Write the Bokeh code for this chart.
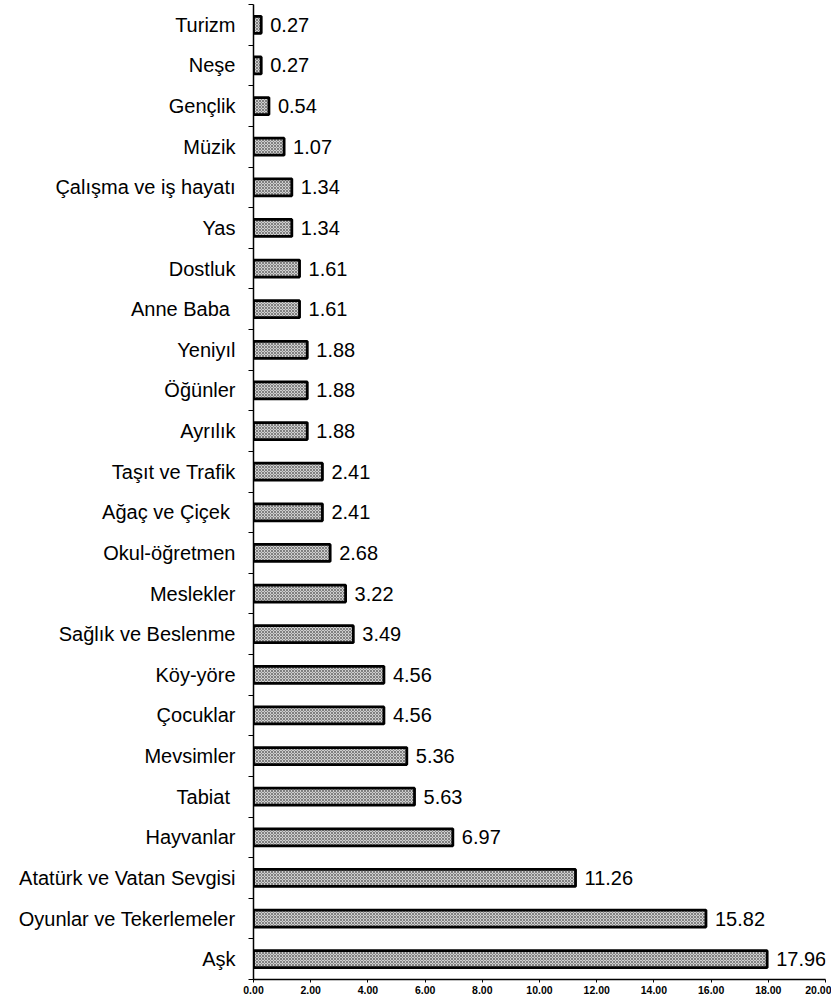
from bokeh.plotting import figure
from bokeh.models import ColumnDataSource, FixedTicker, Range1d
from bokeh.core.properties import value
from bokeh.embed import file_html
from bokeh.resources import INLINE

# Data (top to bottom as in the reference)
categories = [
    "Turizm", "Neşe", "Gençlik", "Müzik", "Çalışma ve iş hayatı", "Yas",
    "Dostluk", "Anne Baba ", "Yeniyıl", "Öğünler", "Ayrılık", "Taşıt ve Trafik",
    "Ağaç ve Çiçek ", "Okul-öğretmen", "Meslekler", "Sağlık ve Beslenme",
    "Köy-yöre", "Çocuklar", "Mevsimler", "Tabiat ", "Hayvanlar",
    "Atatürk ve Vatan Sevgisi", "Oyunlar ve Tekerlemeler", "Aşk",
]
values = [
    0.27, 0.27, 0.54, 1.07, 1.34, 1.34, 1.61, 1.61, 1.88, 1.88, 1.88, 2.41,
    2.41, 2.68, 3.22, 3.49, 4.56, 4.56, 5.36, 5.63, 6.97, 11.26, 15.82, 17.96,
]
x_ticks = [0, 2, 4, 6, 8, 10, 12, 14, 16, 18, 20]
x_tick_labels = ["0.00", "2.00", "4.00", "6.00", "8.00", "10.00", "12.00",
                 "14.00", "16.00", "18.00", "20.00"]

n = len(categories)
ypos = [n - 1 - i for i in range(n)]  # top item gets highest position
labels = ["%.2f" % v for v in values]

src = ColumnDataSource(dict(y=ypos, v=values, lab=labels))

FONT = "Liberation Sans"

p = figure(
    width=831, height=999,
    x_range=Range1d(0, 20), y_range=Range1d(-0.5, n - 0.5),
    output_backend="svg", toolbar_location=None,
    min_border_left=253, min_border_right=6, min_border_top=4,
    min_border_bottom=20,
)
p.outline_line_color = None
p.xgrid.grid_line_color = None
p.ygrid.grid_line_color = None
p.background_fill_color = "white"
p.border_fill_color = "white"

p.hbar(y="y", right="v", left=0, height=0.42, source=src,
       fill_color="#cfcfcf", hatch_pattern="x", hatch_scale=3,
       hatch_color="#4a4a4a", hatch_weight=0.6,
       line_color="black", line_width=2.8)

p.text(x="v", y="y", text="lab", source=src, x_offset=9,
       text_baseline="middle", text_align="left",
       text_font=value(FONT), text_font_size="20px", text_color="black")

# x axis
p.xaxis.ticker = FixedTicker(ticks=x_ticks)
p.xaxis.major_label_overrides = {t: l for t, l in zip(x_ticks, x_tick_labels)}
p.xaxis.major_label_text_font = FONT
p.xaxis.major_label_text_font_style = "bold"
p.xaxis.major_label_text_font_size = "10.5px"
p.xaxis.major_label_text_color = "black"
p.xaxis.major_tick_out = 3
p.xaxis.major_tick_in = 0
p.xaxis.minor_tick_line_color = None
p.xaxis.major_label_standoff = 3
p.xaxis.axis_line_width = 1.5
p.xaxis.axis_line_color = "black"
p.xaxis.major_tick_line_color = "black"

# y axis: labels at centres, small ticks at boundaries
p.yaxis.ticker = FixedTicker(ticks=ypos,
                             minor_ticks=[k - 0.5 for k in range(n + 1)])
p.yaxis.major_label_overrides = {y: c for y, c in zip(ypos, categories)}
p.yaxis.major_label_text_font = FONT
p.yaxis.major_label_text_font_size = "20px"
p.yaxis.major_label_text_color = "black"
p.yaxis.major_tick_line_color = None
p.yaxis.major_tick_out = 0
p.yaxis.major_tick_in = 0
p.yaxis.minor_tick_out = 5
p.yaxis.minor_tick_in = 0
p.yaxis.minor_tick_line_color = "black"
p.yaxis.major_label_standoff = 13
p.yaxis.axis_line_width = 1.5
p.yaxis.axis_line_color = "black"

open("out.html", "w").write(file_html(p, INLINE))
